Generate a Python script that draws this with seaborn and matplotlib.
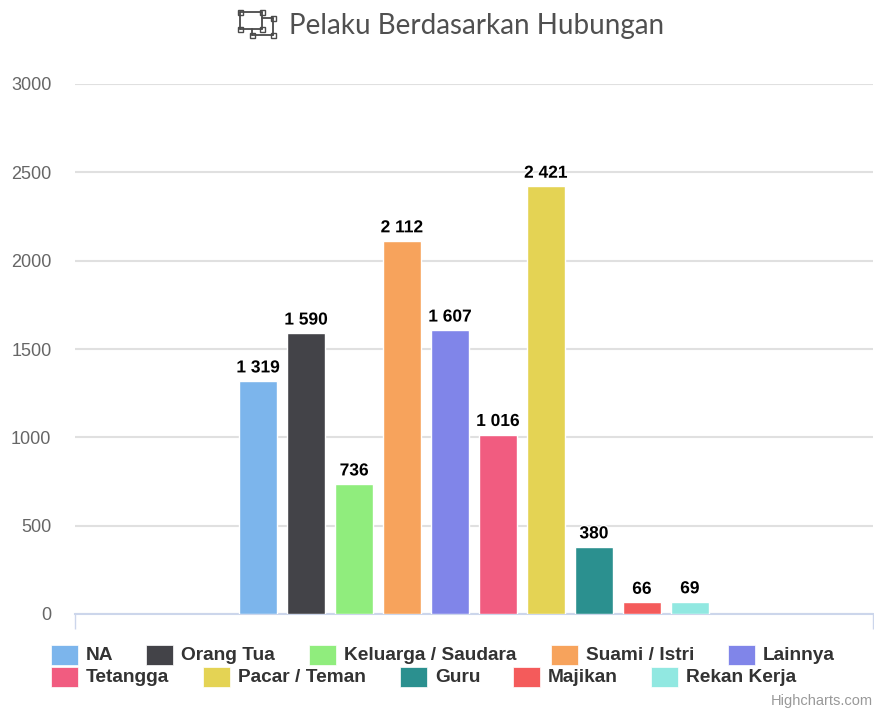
import matplotlib
matplotlib.use("Agg")
import matplotlib.pyplot as plt
import matplotlib.patheffects as pe
from matplotlib.patches import Rectangle
from matplotlib.lines import Line2D
from matplotlib.transforms import Affine2D
import pandas as pd
import seaborn as sns

W, H = 874, 709

relations = ["NA", "Orang Tua", "Keluarga / Saudara", "Suami / Istri", "Lainnya",
             "Tetangga", "Pacar / Teman", "Guru", "Majikan", "Rekan Kerja"]
counts = [1319, 1590, 736, 2112, 1607, 1016, 2421, 380, 66, 69]
colors = ["#7cb5ec", "#434348", "#90ed7d", "#f7a35c", "#8085e9",
          "#f15c80", "#e4d354", "#2b908f", "#f45b5b", "#91e8e1"]
y_ticks = [0, 500, 1000, 1500, 2000, 2500, 3000]
title = "Pelaku Berdasarkan Hubungan"

sns.set_theme(style="white")
plt.rcParams["font.family"] = ["Liberation Sans", "DejaVu Sans"]

df = pd.DataFrame({"group": ["Hubungan"] * len(relations), "relation": relations, "count": counts})

fig = plt.figure(figsize=(W / 100, H / 100), dpi=100, facecolor="white")
# axes box in pixels: x 75-873, y 84-614
ax = fig.add_axes([75 / W, 1 - 614 / H, 798 / W, 530 / H])
sns.barplot(data=df, x="group", y="count", hue="relation", hue_order=relations,
            palette=colors, saturation=1, width=0.601, gap=0.2, legend=False,
            edgecolor="white", linewidth=1, ax=ax, zorder=3)

ax.set_xlim(-0.5, 0.5)
ax.set_ylim(0, 3000)
ax.set_xlabel("")
ax.set_ylabel("")
ax.set_yticks(y_ticks)
ax.set_yticklabels([str(t) for t in y_ticks], fontsize=13, color="#666666")
ax.tick_params(axis="y", length=0, pad=17)
ax.set_xticks([-0.5, 0.5])
ax.set_xticklabels(["", ""])
ax.tick_params(axis="x", length=10.5, width=1, color="#ccd6eb", bottom=True)
ax.yaxis.grid(True, color="#e0e0e0", linewidth=1.5)
ax.set_axisbelow(True)
for side in ["top", "left", "right"]:
    ax.spines[side].set_visible(False)
ax.spines["bottom"].set_color("#ccd6eb")
ax.spines["bottom"].set_linewidth(1.5)
for tick in ax.get_xticklines():
    tick.set_clip_on(False)

for container, value in zip(ax.containers, counts):
    label = f"{value:,}".replace(",", " ")
    ax.bar_label(container, labels=[label], padding=4, fontsize=12.5, fontweight="bold", color="black",
                 path_effects=[pe.withStroke(linewidth=2, foreground="white")], zorder=5)

# pixel coords, y down
px = Affine2D().scale(1, -1).translate(0, H)

# title and its little icon
fig.text(289 / W, 1 - 26 / H, title, fontsize=20, color="#505050", family="Lato",
         ha="left", va="center")
icon = "#4a4a4a"
for x0, y0, x1, y1 in [(240, 12, 262, 12), (240, 12, 240, 29), (262, 12, 262, 29), (240, 29, 262, 29),
                       (252, 35, 273, 35), (273, 18, 273, 35), (262, 18, 273, 18), (252, 29, 252, 35)]:
    fig.add_artist(Line2D([x0, x1], [y0, y1], transform=px, color=icon, linewidth=1.3))
for x0, y0 in [(240, 12), (262, 12), (240, 29), (262, 29), (252, 35), (273, 35), (273, 18)]:
    fig.add_artist(Rectangle((x0 - 2.5, y0 - 2.5), 5, 5, transform=px, facecolor="white", edgecolor=icon, linewidth=1))

# legend laid out by hand, two rows with uneven spacing like the original
legend_x = [51, 146, 309, 551, 728, 51, 203, 400, 513, 651]
legend_y = [644.5] * 5 + [667] * 5
for name, color, lx, ly in zip(relations, colors, legend_x, legend_y):
    fig.add_artist(Rectangle((lx, ly), 27, 20, transform=px, facecolor=color, edgecolor="white", linewidth=0.5))
    fig.text((lx + 35) / W, 1 - (ly + 10.5) / H, name, fontsize=13.8, fontweight="bold", color="#333333",
             ha="left", va="center")

# kept inside the canvas, the original has it cut by the bottom edge
fig.text(873 / W, 1 - 701 / H, "Highcharts.com", fontsize=10.5, color="#999999", ha="right", va="center")

fig.savefig("out.png", dpi=100)
